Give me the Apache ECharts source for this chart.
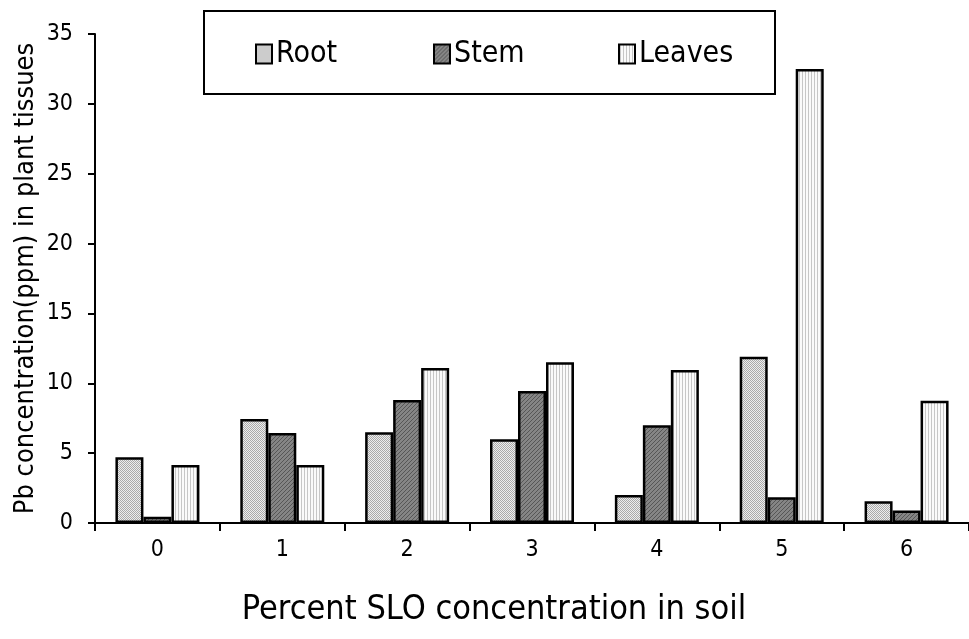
<!DOCTYPE html>
<html>
<head>
<meta charset="utf-8">
<script src="https://cdn.jsdelivr.net/npm/echarts@6/dist/echarts.min.js"></script>
<style>
  html, body { margin: 0; padding: 0; background: #fff; }
  #chart { width: 969px; height: 639px; }
</style>
</head>
<body>
<div id="chart"></div>
<script>
  var categories = ['0', '1', '2', '3', '4', '5', '6'];
  var rootValues = [4.7, 7.45, 6.5, 6.0, 2.0, 11.9, 1.55];
  var stemValues = [0.45, 6.45, 8.8, 9.45, 7.0, 1.85, 0.9];
  var leavesValues = [4.15, 4.15, 11.1, 11.5, 10.95, 32.5, 8.75];

  var font = '"DejaVu Sans Condensed", "DejaVu Sans", sans-serif';

  // small canvas tiles for the hatch fills
  function tile(w, h, bg, fg, draw) {
    var c = document.createElement('canvas');
    c.width = w; c.height = h;
    var ctx = c.getContext('2d');
    ctx.fillStyle = bg;
    ctx.fillRect(0, 0, w, h);
    ctx.fillStyle = fg;
    draw(ctx);
    return { image: c, repeat: 'repeat' };
  }

  var rootFill = tile(2, 2, '#eeeeee', '#aaaaaa', function (ctx) {
    ctx.fillRect(0, 0, 1, 1);
    ctx.fillRect(1, 1, 1, 1);
  });
  var stemFill = tile(4, 4, '#858585', '#565656', function (ctx) {
    for (var i = 0; i < 4; i++) ctx.fillRect(i, 3 - i, 1, 1);
  });
  var leavesFill = tile(3, 2, '#fafafa', '#c6c6c6', function (ctx) {
    ctx.fillRect(1, 0, 1, 2);
  });

  function barSeries(name, data, fill) {
    return {
      name: name,
      type: 'bar',
      data: data,
      barWidth: 28,
      barGap: '0%',
      itemStyle: { color: fill, borderColor: '#000', borderWidth: 2.5 },
      emphasis: { disabled: true }
    };
  }

  function legendAt(name, x) {
    return {
      left: x,
      top: 39,
      padding: 0,
      itemWidth: 16,
      itemHeight: 19,
      icon: 'rect',
      z: 10,
      selectedMode: false,
      textStyle: { fontFamily: font, fontSize: 30, color: '#000', padding: [0, 0, 0, -1] },
      data: [name]
    };
  }

  var myChart = echarts.init(document.getElementById('chart'));

  var option = {
    animation: false,
    backgroundColor: '#fff',
    title: {
      text: 'Percent SLO concentration in soil',
      left: 489,
      top: 588,
      textAlign: 'center',
      textStyle: { fontFamily: font, fontSize: 34, fontWeight: 'normal', color: '#000' }
    },
    graphic: [{
      type: 'rect',
      shape: { x: 204, y: 11, width: 571, height: 83 },
      style: { fill: '#fff', stroke: '#000', lineWidth: 2 },
      z: 0
    }],
    legend: [legendAt('Root', 255), legendAt('Stem', 433), legendAt('Leaves', 618)],
    grid: { left: 95, right: 0, top: 34, bottom: 116, containLabel: false },
    xAxis: {
      type: 'category',
      data: categories,
      axisLine: { lineStyle: { color: '#000', width: 2 } },
      axisTick: { show: true, length: 8, lineStyle: { color: '#000', width: 2 } },
      axisLabel: { fontFamily: font, fontSize: 23, color: '#000', margin: 16 }
    },
    yAxis: {
      type: 'value',
      min: 0,
      max: 35,
      interval: 5,
      name: 'Pb concentration(ppm) in plant tissues',
      nameLocation: 'middle',
      nameRotate: 90,
      nameGap: 56,
      nameMoveOverlap: false,
      nameTextStyle: { fontFamily: font, fontSize: 27, color: '#000' },
      splitLine: { show: false },
      axisLine: { show: true, lineStyle: { color: '#000', width: 2 } },
      axisTick: { show: true, length: 7, lineStyle: { color: '#000', width: 2 } },
      axisLabel: { fontFamily: font, fontSize: 23, color: '#000', margin: 22 }
    },
    series: [
      barSeries('Root', rootValues, rootFill),
      barSeries('Stem', stemValues, stemFill),
      barSeries('Leaves', leavesValues, leavesFill)
    ]
  };

  myChart.setOption(option);
</script>
</body>
</html>
